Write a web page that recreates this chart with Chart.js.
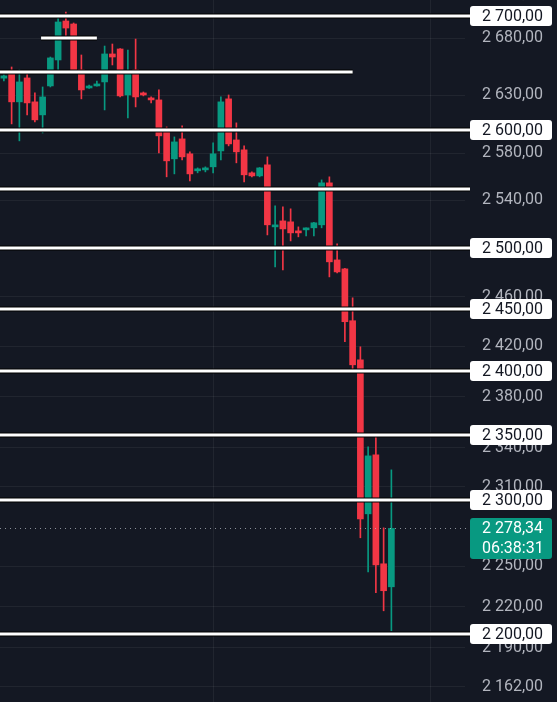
<!DOCTYPE html>
<html>
<head>
<meta charset="utf-8">
<script src="https://cdn.jsdelivr.net/npm/chart.js@4/dist/chart.umd.min.js"></script>
<style>
  html, body { margin: 0; padding: 0; background: #141823; }
  #wrap { width: 557px; height: 702px; position: relative; }
</style>
</head>
<body>
<div id="wrap"><canvas id="priceChart"></canvas></div>
<script>
// candles (oldest first)
const opens = [2645, 2649.5, 2624.3, 2645.2, 2624.3, 2613.0, 2638.2, 2661.0, 2695.6, 2692.9,
  2652.2, 2636.4, 2638.2, 2641.7, 2666.3, 2670.7, 2630.3, 2652.2, 2632.1, 2627.7,
  2626.0, 2600.0, 2575.2, 2592.3, 2579.5, 2565.0, 2565.8, 2568.4, 2582.0, 2626.9,
  2591.4, 2582.9, 2563.3, 2560.7, 2570.1, 2517.8, 2522.8, 2522.0, 2514.4, 2515.3,
  2517.0, 2519.5, 2554.8, 2490.4, 2483.0, 2440.7, 2409.3, 2289.4, 2334.6, 2251.8, 2234.7];
const highs = [2648, 2654.8, 2652.2, 2649.5, 2632.1, 2637.3, 2663.6, 2698.2, 2703.6, 2693.8,
  2665.4, 2639.0, 2642.5, 2673.3, 2675.1, 2671.0, 2669.8, 2679.5, 2632.9, 2628.6,
  2634.7, 2602.6, 2594.0, 2603.5, 2581.2, 2567.5, 2568.4, 2588.9, 2628.6, 2630.3,
  2606.1, 2586.3, 2564.1, 2567.8, 2576.9, 2535.4, 2534.6, 2532.9, 2517.8, 2517.0,
  2521.5, 2557.3, 2559.9, 2503.7, 2483.5, 2459.3, 2419.7, 2340.8, 2349.3, 2278.8, 2323.0];
const lows = [2642.5, 2605.2, 2590.6, 2613.0, 2607.0, 2597.4, 2637.3, 2652.2, 2680.4, 2649.0,
  2626.9, 2636.0, 2638.0, 2617.3, 2656.6, 2628.6, 2610.4, 2619.9, 2629.5, 2623.4,
  2580.3, 2559.9, 2562.4, 2574.3, 2556.5, 2563.3, 2564.1, 2563.3, 2574.3, 2586.3,
  2571.8, 2555.6, 2559.9, 2559.9, 2511.1, 2484.6, 2482.2, 2506.1, 2509.5, 2510.3,
  2510.3, 2517.0, 2476.4, 2479.7, 2423.8, 2401.4, 2271.3, 2245.8, 2230.3, 2217.0, 2202.4];
const closes = [2647, 2624.3, 2641.7, 2623.4, 2608.7, 2628.6, 2662.8, 2694.7, 2689.3, 2649.5,
  2634.7, 2637.3, 2639.9, 2666.3, 2663.6, 2629.5, 2649.5, 2628.6, 2630.3, 2626.0,
  2594.9, 2573.5, 2589.7, 2576.9, 2562.4, 2566.7, 2567.5, 2579.5, 2624.3, 2588.0,
  2581.2, 2561.6, 2560.7, 2567.5, 2519.5, 2518.3, 2516.1, 2512.8, 2512.8, 2516.1,
  2521.2, 2554.8, 2488.8, 2480.5, 2439.9, 2405.3, 2285.6, 2333.8, 2251.0, 2231.8, 2278.34];

// empty slots to the right of the last candle
const emptySlots = 9;

// price axis
const yTicks = [2720, 2680, 2630, 2580, 2540, 2460, 2420, 2380, 2340, 2310, 2250, 2220, 2190, 2162];
const yMin = 2151;
const yMax = 2714.4;

// vertical grid lines (bar index)
const gridBars = [27, 55];

// drawn horizontal levels
const levelPrices  = [2700, 2680, 2650, 2600, 2550, 2500, 2450, 2400, 2350, 2300, 2200];
const levelLabeled = [true, false, false, true, false, true, true, true, true, true, true];
const levelFrom    = [null, 4.8, null, null, null, null, null, null, null, null, null];
const levelTo      = [null, 12, 45, null, null, null, null, null, null, null, null];

// last price tag
const lastPrice = 2278.34;
const countdown = '06:38:31';

const UP = '#089981';
const DOWN = '#f23645';

function fmt(v) {
    const parts = Number(v).toFixed(2).split('.');
    return parts[0].replace(/\B(?=(\d{3})+(?!\d))/g, ' ') + ',' + parts[1];
}

const labels = opens.map((_, i) => i);
for (let i = 0; i < emptySlots; i++) labels.push(opens.length + i);

const colors = opens.map((o, i) => closes[i] >= o ? UP : DOWN);

// level lines + price tags
const overlayPlugin = {
    id: 'overlay',
    afterDatasetsDraw(chart) {
        const { ctx, chartArea, scales: { x, y } } = chart;
        const boxLeft = chartArea.right + 5;

        // dotted last price line
        const lp = Math.round(y.getPixelForValue(lastPrice)) + 0.5;
        ctx.save();
        ctx.strokeStyle = 'rgba(190,195,205,0.7)';
        ctx.lineWidth = 1;
        ctx.setLineDash([1, 4]);
        ctx.beginPath();
        ctx.moveTo(0, lp);
        ctx.lineTo(boxLeft, lp);
        ctx.stroke();
        ctx.restore();

        levelPrices.forEach((p, i) => {
            const py = Math.round(y.getPixelForValue(p));
            const x0 = levelFrom[i] === null ? 0 : x.getPixelForValue(levelFrom[i]);
            const x1 = levelTo[i] === null ? boxLeft : x.getPixelForValue(levelTo[i]);
            ctx.fillStyle = '#000000';
            ctx.fillRect(x0, py - 2.5, x1 - x0, 5);
            ctx.fillStyle = '#ffffff';
            ctx.fillRect(x0, py - 1.5, x1 - x0, 3);
        });
    },
    afterDraw(chart) {
        const { ctx, chartArea, scales: { y } } = chart;
        const boxLeft = chartArea.right + 5;
        const boxW = 82;
        ctx.save();
        ctx.font = '16px Roboto';
        ctx.textAlign = 'left';
        ctx.textBaseline = 'middle';

        levelPrices.forEach((p, i) => {
            if (!levelLabeled[i]) return;
            const py = Math.round(y.getPixelForValue(p));
            ctx.fillStyle = '#ffffff';
            ctx.beginPath();
            ctx.roundRect(boxLeft, py - 10, boxW, 20, 3);
            ctx.fill();
            ctx.fillStyle = '#131722';
            ctx.fillText(fmt(p), boxLeft + 12, py + 1);
        });

        const lp = Math.round(y.getPixelForValue(lastPrice));
        ctx.fillStyle = UP;
        ctx.beginPath();
        ctx.roundRect(boxLeft, lp - 10, boxW, 41, 3);
        ctx.fill();
        ctx.fillStyle = '#ffffff';
        ctx.fillText(fmt(lastPrice), boxLeft + 12, lp + 1);
        ctx.fillText(countdown, boxLeft + 12, lp + 21);
        ctx.restore();
    }
};

new Chart(document.getElementById('priceChart'), {
    type: 'bar',
    data: {
        labels: labels,
        datasets: [
            {
                label: 'body',
                data: opens.map((o, i) => [o, closes[i]]),
                backgroundColor: colors,
                barThickness: 6,
                minBarLength: 2,
                grouped: false,
                order: 0
            },
            {
                label: 'wick',
                data: lows.map((l, i) => [l, highs[i]]),
                backgroundColor: colors,
                barThickness: 1,
                grouped: false,
                order: 1
            }
        ]
    },
    options: {
        responsive: true,
        maintainAspectRatio: false,
        animation: false,
        layout: { padding: 0 },
        plugins: {
            legend: { display: false },
            tooltip: { enabled: false }
        },
        scales: {
            x: {
                type: 'category',
                offset: true,
                grid: { offset: false, color: 'rgba(255,255,255,0.06)', drawTicks: false },
                border: { display: false },
                ticks: { display: false },
                afterBuildTicks: s => { s.ticks = gridBars.map(v => ({ value: v })); },
                afterFit: s => { s.height = 0; s.paddingLeft = 0; s.paddingRight = 0; }
            },
            y: {
                type: 'logarithmic',
                position: 'right',
                min: yMin,
                max: yMax,
                grid: { color: 'rgba(255,255,255,0.06)', drawTicks: false },
                border: { display: false },
                afterBuildTicks: s => { s.ticks = yTicks.map(v => ({ value: v })); },
                afterFit: s => { s.width = 92; s.paddingTop = 0; s.paddingBottom = 0; },
                ticks: {
                    autoSkip: false,
                    color: '#b2b5be',
                    padding: 17,
                    font: { family: 'Roboto', size: 16 },
                    callback: v => fmt(v)
                }
            }
        }
    },
    plugins: [overlayPlugin]
});
</script>
</body>
</html>
